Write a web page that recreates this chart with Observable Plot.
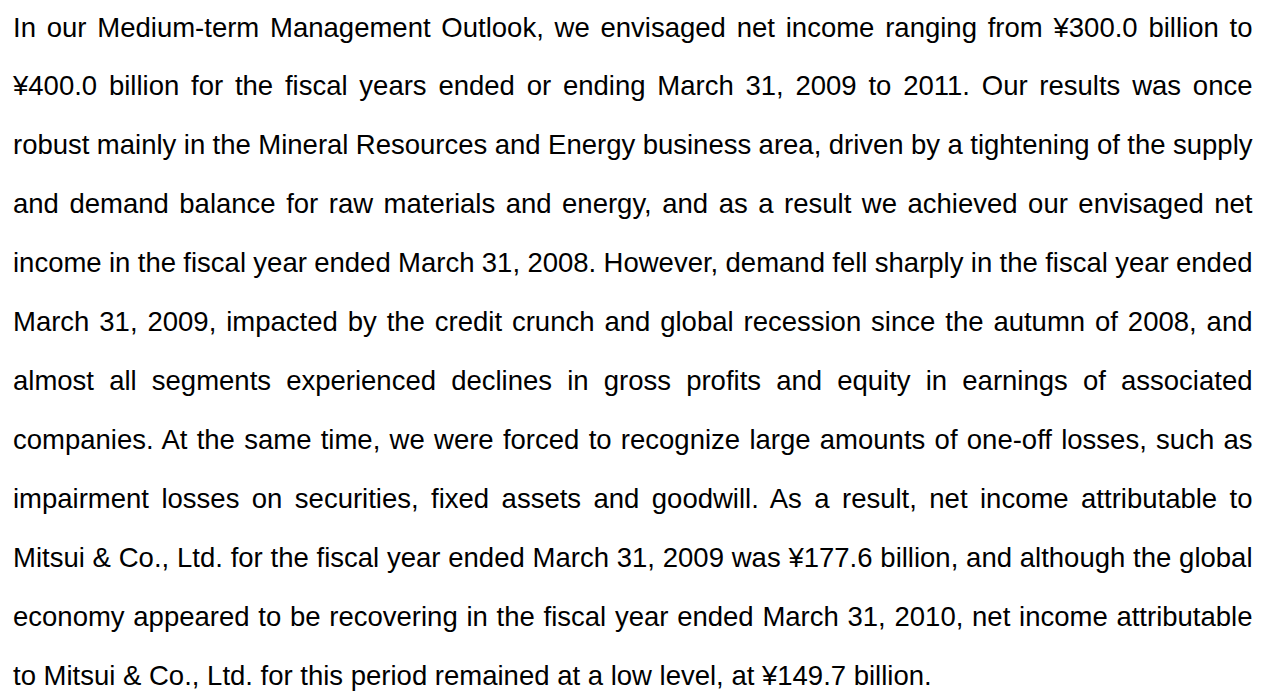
<!DOCTYPE html>
<html>
<head>
<meta charset="utf-8">
<script src="https://cdn.jsdelivr.net/npm/d3@7"></script>
<script src="https://cdn.jsdelivr.net/npm/@observablehq/plot@0.6"></script>
<style>
  html, body { margin: 0; padding: 0; background: #ffffff; }
  #chart svg { display: block; }
</style>
</head>
<body>
<div id="chart"></div>
<script>
const lines = [
  "In our Medium-term Management Outlook, we envisaged net income ranging from ¥300.0 billion to",
  "¥400.0 billion for the fiscal years ended or ending March 31, 2009 to 2011. Our results was once",
  "robust mainly in the Mineral Resources and Energy business area, driven by a tightening of the supply",
  "and demand balance for raw materials and energy, and as a result we achieved our envisaged net",
  "income in the fiscal year ended March 31, 2008. However, demand fell sharply in the fiscal year ended",
  "March 31, 2009, impacted by the credit crunch and global recession since the autumn of 2008, and",
  "almost all segments experienced declines in gross profits and equity in earnings of associated",
  "companies. At the same time, we were forced to recognize large amounts of one-off losses, such as",
  "impairment losses on securities, fixed assets and goodwill. As a result, net income attributable to",
  "Mitsui & Co., Ltd. for the fiscal year ended March 31, 2009 was ¥177.6 billion, and although the global",
  "economy appeared to be recovering in the fiscal year ended March 31, 2010, net income attributable",
  "to Mitsui & Co., Ltd. for this period remained at a low level, at ¥149.7 billion."
];
const lineIndex = lines.map((_, i) => i);
const justified = lines.map((_, i) => i < lines.length - 1);

const FONT = "'Liberation Sans', Arial, sans-serif";
const chart = Plot.plot({
  width: 1271,
  height: 691,
  margin: 0,
  style: {fontFamily: FONT, background: "#ffffff", color: "#000"},
  x: {domain: [0, 1], range: [12.5, 1252], axis: null},
  y: {domain: [0, lines.length - 1], range: [36, 684], axis: null},
  marks: [
    Plot.text(lineIndex, {
      x: () => 0,
      y: (i) => i,
      text: (i) => lines[i],
      textAnchor: "start",
      lineAnchor: "bottom",
      fontSize: 27.5,
      fontFamily: FONT,
      fill: "#000000"
    })
  ]
});
document.getElementById("chart").appendChild(chart);

// justify every line but the last by spreading its word spaces
const xs = chart.scale("x");
const target = xs.range[1] - xs.range[0];
d3.select(chart).selectAll("text").each(function (i) {
  if (!justified[i]) return;
  const natural = this.getComputedTextLength();
  const spaces = (lines[i].match(/ /g) || []).length;
  if (spaces > 0) this.setAttribute("word-spacing", ((target - natural) / spaces).toFixed(3));
});
</script>
</body>
</html>
